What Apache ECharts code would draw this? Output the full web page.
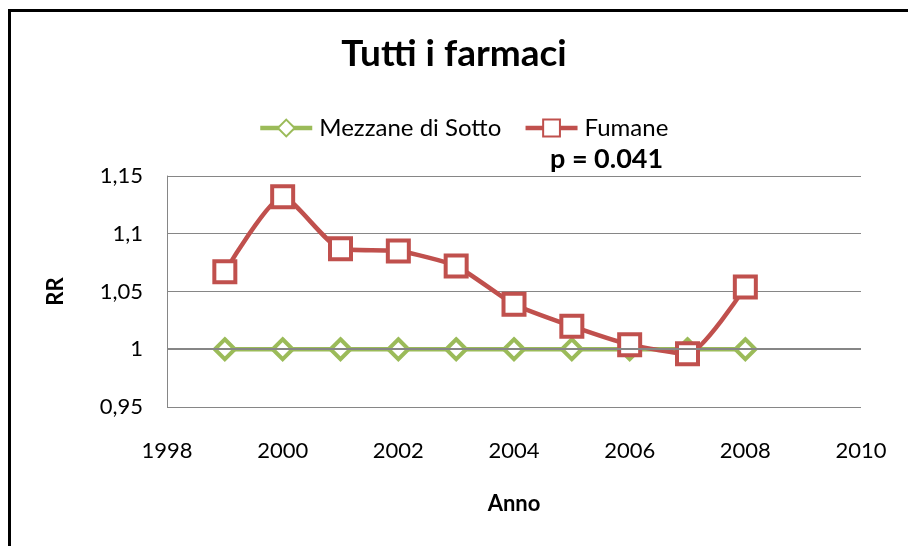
<!DOCTYPE html>
<html>
<head>
<meta charset="utf-8">
<script src="https://cdn.jsdelivr.net/npm/echarts@6/dist/echarts.min.js"></script>
<style>html,body{margin:0;padding:0;background:#fff;}#c{width:908px;height:546px;}</style>
</head>
<body>
<div id="c"></div>
<script>
const years = [1999, 2000, 2001, 2002, 2003, 2004, 2005, 2006, 2007, 2008];
const mezzane = [1, 1, 1, 1, 1, 1, 1, 1, 1, 1];
const fumane = [1.067, 1.132, 1.087, 1.085, 1.072, 1.039, 1.020, 1.004, 0.996, 1.054];
const seriesNames = ['Mezzane di Sotto', 'Fumane'];
const xTicks = [1998, 2000, 2002, 2004, 2006, 2008, 2010];
const yTicks = [0.95, 1, 1.05, 1.1, 1.15];

const GREEN = '#9BBB59', RED = '#C0504D';
const font = 'Lato, "Open Sans", sans-serif';
const chart = echarts.init(document.getElementById('c'));
const pair = (ys) => years.map((y, i) => [y, ys[i]]);

chart.setOption({
  backgroundColor: '#fff',
  animation: false,
  title: {
    text: 'Tutti i farmaci',
    left: 'center', top: 31,
    textStyle: { fontFamily: font, fontSize: 37, fontWeight: 'bold', color: '#000' }
  },
  legend: {
    top: 111, left: 253,
    itemWidth: 52, itemHeight: 21, itemGap: 22,
    textStyle: { fontFamily: font, fontSize: 24, color: '#000', padding: [0, 0, 0, 2] },
    data: [
      { name: seriesNames[0], lineStyle: { color: GREEN, width: 4.5 } },
      { name: seriesNames[1], lineStyle: { color: RED, width: 4.5 } }
    ]
  },
  graphic: [
    { type: 'polyline', shape: { points: [[9.5, 546], [9.5, 10.5], [908, 10.5]] },
      style: { stroke: '#000', lineWidth: 3, fill: null } },
    { type: 'text', left: 550, top: 146,
      style: { text: 'p = 0.041', font: 'bold 27px ' + font, fill: '#000' } }
  ],
  grid: { left: 167, right: 47, top: 176, bottom: 139, containLabel: false },
  xAxis: {
    type: 'value', min: xTicks[0], max: xTicks[xTicks.length - 1], interval: 2,
    name: 'Anno', nameLocation: 'middle', nameGap: 86,
    nameTextStyle: { fontFamily: font, fontSize: 22, fontWeight: 'bold', color: '#000' },
    axisLine: { show: false }, axisTick: { show: false }, splitLine: { show: false },
    axisLabel: { fontFamily: font, fontSize: 22, color: '#000', margin: 33,
      formatter: (v) => String(v) }
  },
  yAxis: {
    type: 'value', min: yTicks[0], max: yTicks[yTicks.length - 1], interval: 0.05,
    name: 'RR', nameLocation: 'middle', nameGap: 100,
    nameTextStyle: { fontFamily: font, fontSize: 22, fontWeight: 'bold', color: '#000' },
    axisLine: { show: true, lineStyle: { color: '#868686', width: 1 } },
    axisTick: { show: false },
    splitLine: { show: true, lineStyle: { color: '#868686', width: 1 } },
    axisLabel: {
      fontFamily: font, fontSize: 22, color: '#000', margin: 24,
      formatter: (v) => String(Number(v.toFixed(2))).replace('.', ',')
    }
  },
  series: [
    { type: 'line', name: '_axis', data: [], z: 1, silent: true,
      markLine: { silent: true, symbol: 'none', label: { show: false },
        lineStyle: { color: '#868686', width: 2, type: 'solid' },
        data: [{ yAxis: 1 }] } },
    { type: 'line', name: seriesNames[0], data: pair(mezzane), z: 3,
      symbol: 'diamond', symbolSize: 20,
      lineStyle: { color: GREEN, width: 4.5 },
      itemStyle: { color: '#fff', borderColor: GREEN, borderWidth: 4 } },
    { type: 'line', name: seriesNames[1], data: pair(fumane), z: 4,
      smooth: 0.2,
      symbol: 'rect', symbolSize: 21,
      lineStyle: { color: RED, width: 4.5 },
      itemStyle: { color: '#fff', borderColor: RED, borderWidth: 4 } }
  ]
});
</script>
</body>
</html>
